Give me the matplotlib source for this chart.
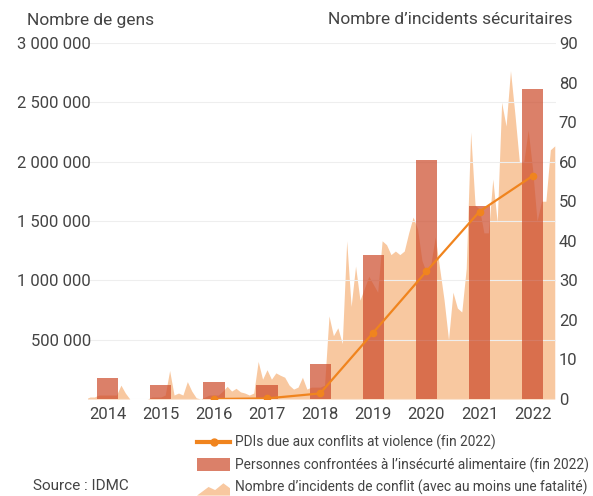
import numpy as np
import matplotlib
matplotlib.use("Agg")
import matplotlib.pyplot as plt
from matplotlib.patches import Patch, Polygon
from matplotlib.lines import Line2D
from matplotlib.legend_handler import HandlerPatch

plt.rcParams['font.family'] = ['Roboto', 'DejaVu Sans']

# Years shown on the x axis
years = [2014, 2015, 2016, 2017, 2018, 2019, 2020, 2021, 2022]

# Personnes confrontées à l'insécurité alimentaire (left axis)
food_insecure = [180000, 118000, 143000, 122000, 295000, 1210000, 2010000, 1630000, 2610000]

# PDIs dues aux conflits (left axis), no data before 2016
idp = [np.nan, np.nan, 0, 5000, 47000, 560000, 1075000, 1580000, 1880000]

# Monthly conflict incidents (right axis), Jan 2014 -> Dec 2022
inc_2014 = [0, 0, 0.5, 0.5, 1, 1, 1, 1, 1, 3.5, 1.5, 0]
inc_2015 = [0, 0, 0, 0, 0.5, 0.5, 0.5, 1, 7.2, 1, 1.5, 1]
inc_2016 = [4.4, 2, 0.3, 0, 0.5, 1, 1, 1, 2, 3.2, 2, 2.7]
inc_2017 = [1.8, 1.5, 1, 1.5, 9.5, 5, 7.4, 5, 6.6, 6, 5.5, 3.5]
inc_2018 = [2.5, 3, 5.5, 2.5, 3, 3, 3, 3.5, 21, 16, 18, 14]
inc_2019 = [40, 23.4, 33.6, 25, 28, 31, 29, 27, 40, 39, 36.5, 37.4]
inc_2020 = [36.5, 37.4, 42, 46, 43, 35, 32, 34, 41, 33, 25, 15]
inc_2021 = [27, 23, 22, 33, 67.5, 49, 48, 42, 42, 55.6, 44.7, 75]
inc_2022 = [69, 83, 72, 60, 60, 68, 58, 45, 50, 50, 63, 64]
incidents = inc_2014 + inc_2015 + inc_2016 + inc_2017 + inc_2018 + inc_2019 + inc_2020 + inc_2021 + inc_2022

left_ticks = [500000, 1000000, 1500000, 2000000, 2500000, 3000000]
right_ticks = [0, 10, 20, 30, 40, 50, 60, 70, 80, 90]

txt = '#444444'
c_area = '#f8c8a0'
c_bar = '#cc4a2a'
c_line = '#f0841e'

# month positions: each year label sits at mid-year
month_x = years[0] - 0.5 + np.arange(len(incidents)) / 12.0

fig = plt.figure(figsize=(5.93, 4.96), dpi=100)
ax = fig.add_axes([88/593, 1 - 399/496, (556-88)/593, (399-43)/496])
ax2 = ax.twinx()

# area on the right axis, drawn behind the left axis
ax2.fill_between(month_x, incidents, 0, color=c_area, lw=0, zorder=1)
ax2.set_ylim(0, 90)
ax.set_zorder(ax2.get_zorder() + 1)
ax.patch.set_visible(False)

ax.bar(years, food_insecure, width=0.4, color=c_bar, alpha=0.7, lw=0, zorder=2)
ax.plot(years, idp, color=c_line, lw=1.6, marker='o', ms=4.5, zorder=3)

ax.set_ylim(0, 3000000)
ax.set_xlim(2013.63, 2022.44)
ax.set_yticks(left_ticks)
ax.set_yticklabels([f"{v:,}".replace(",", " ") for v in left_ticks])
ax.set_xticks(years)
ax.set_xticklabels([str(y) for y in years])
ax2.set_yticks(right_ticks)

for a in (ax, ax2):
    for s in a.spines.values():
        s.set_visible(False)
ax.grid(axis='y', color='#eeeeee', lw=0.8)
ax.axhline(0, color='#eeeeee', lw=0.8, zorder=0)
ax.set_axisbelow(True)

ax.tick_params(axis='y', length=0, pad=-2, labelsize=12, labelcolor=txt)
ax.tick_params(axis='x', length=0, pad=6, labelsize=12, labelcolor=txt)
ax2.tick_params(axis='y', length=0, pad=2, labelsize=12, labelcolor=txt)

fig.text(27/593, 1 - 20/496, "Nombre de gens", ha='left', va='center', fontsize=12.5, color=txt)
fig.text(572/593, 1 - 20/496, "Nombre d\u2019incidents sécuritaires", ha='right', va='center',
         fontsize=12.5, color=txt)
fig.text(33/593, 1 - 486/496, "Source : IDMC", ha='left', va='center', fontsize=11, color=txt)


def mountain(legend, orig_handle, xdescent, ydescent, width, height, fontsize):
    x0, y0 = -xdescent, -ydescent - 2
    pts = [(x0, y0), (x0 + 0.35*width, y0 + 0.7*height), (x0 + 0.55*width, y0 + 0.45*height),
           (x0 + 0.8*width, y0 + 1.0*height), (x0 + width, y0 + 0.6*height), (x0 + width, y0)]
    return Polygon(pts, closed=True)


h_line = Line2D([], [], color=c_line, lw=3, marker='o', ms=5)
h_bar = Patch(facecolor=c_bar, alpha=0.7, lw=0)
h_area = Patch(facecolor=c_area, lw=0)
leg = fig.legend([h_line, h_bar, h_area],
                 ["PDIs due aux conflits at violence (fin 2022)",
                  "Personnes confrontées à l\u2019insécurté alimentaire (fin 2022)",
                  "Nombre d\u2019incidents de conflit (avec au moins une fatalité)"],
                 loc='upper left', bbox_to_anchor=(197/593, 1 - 435/496), frameon=False,
                 fontsize=9.9, handlelength=2.4, handleheight=1.0, handletextpad=0.35,
                 labelspacing=0.5, borderpad=0, borderaxespad=0,
                 handler_map={h_area: HandlerPatch(patch_func=mountain)})
for t in leg.get_texts():
    t.set_color(txt)

fig.savefig("out.png", dpi=100)
